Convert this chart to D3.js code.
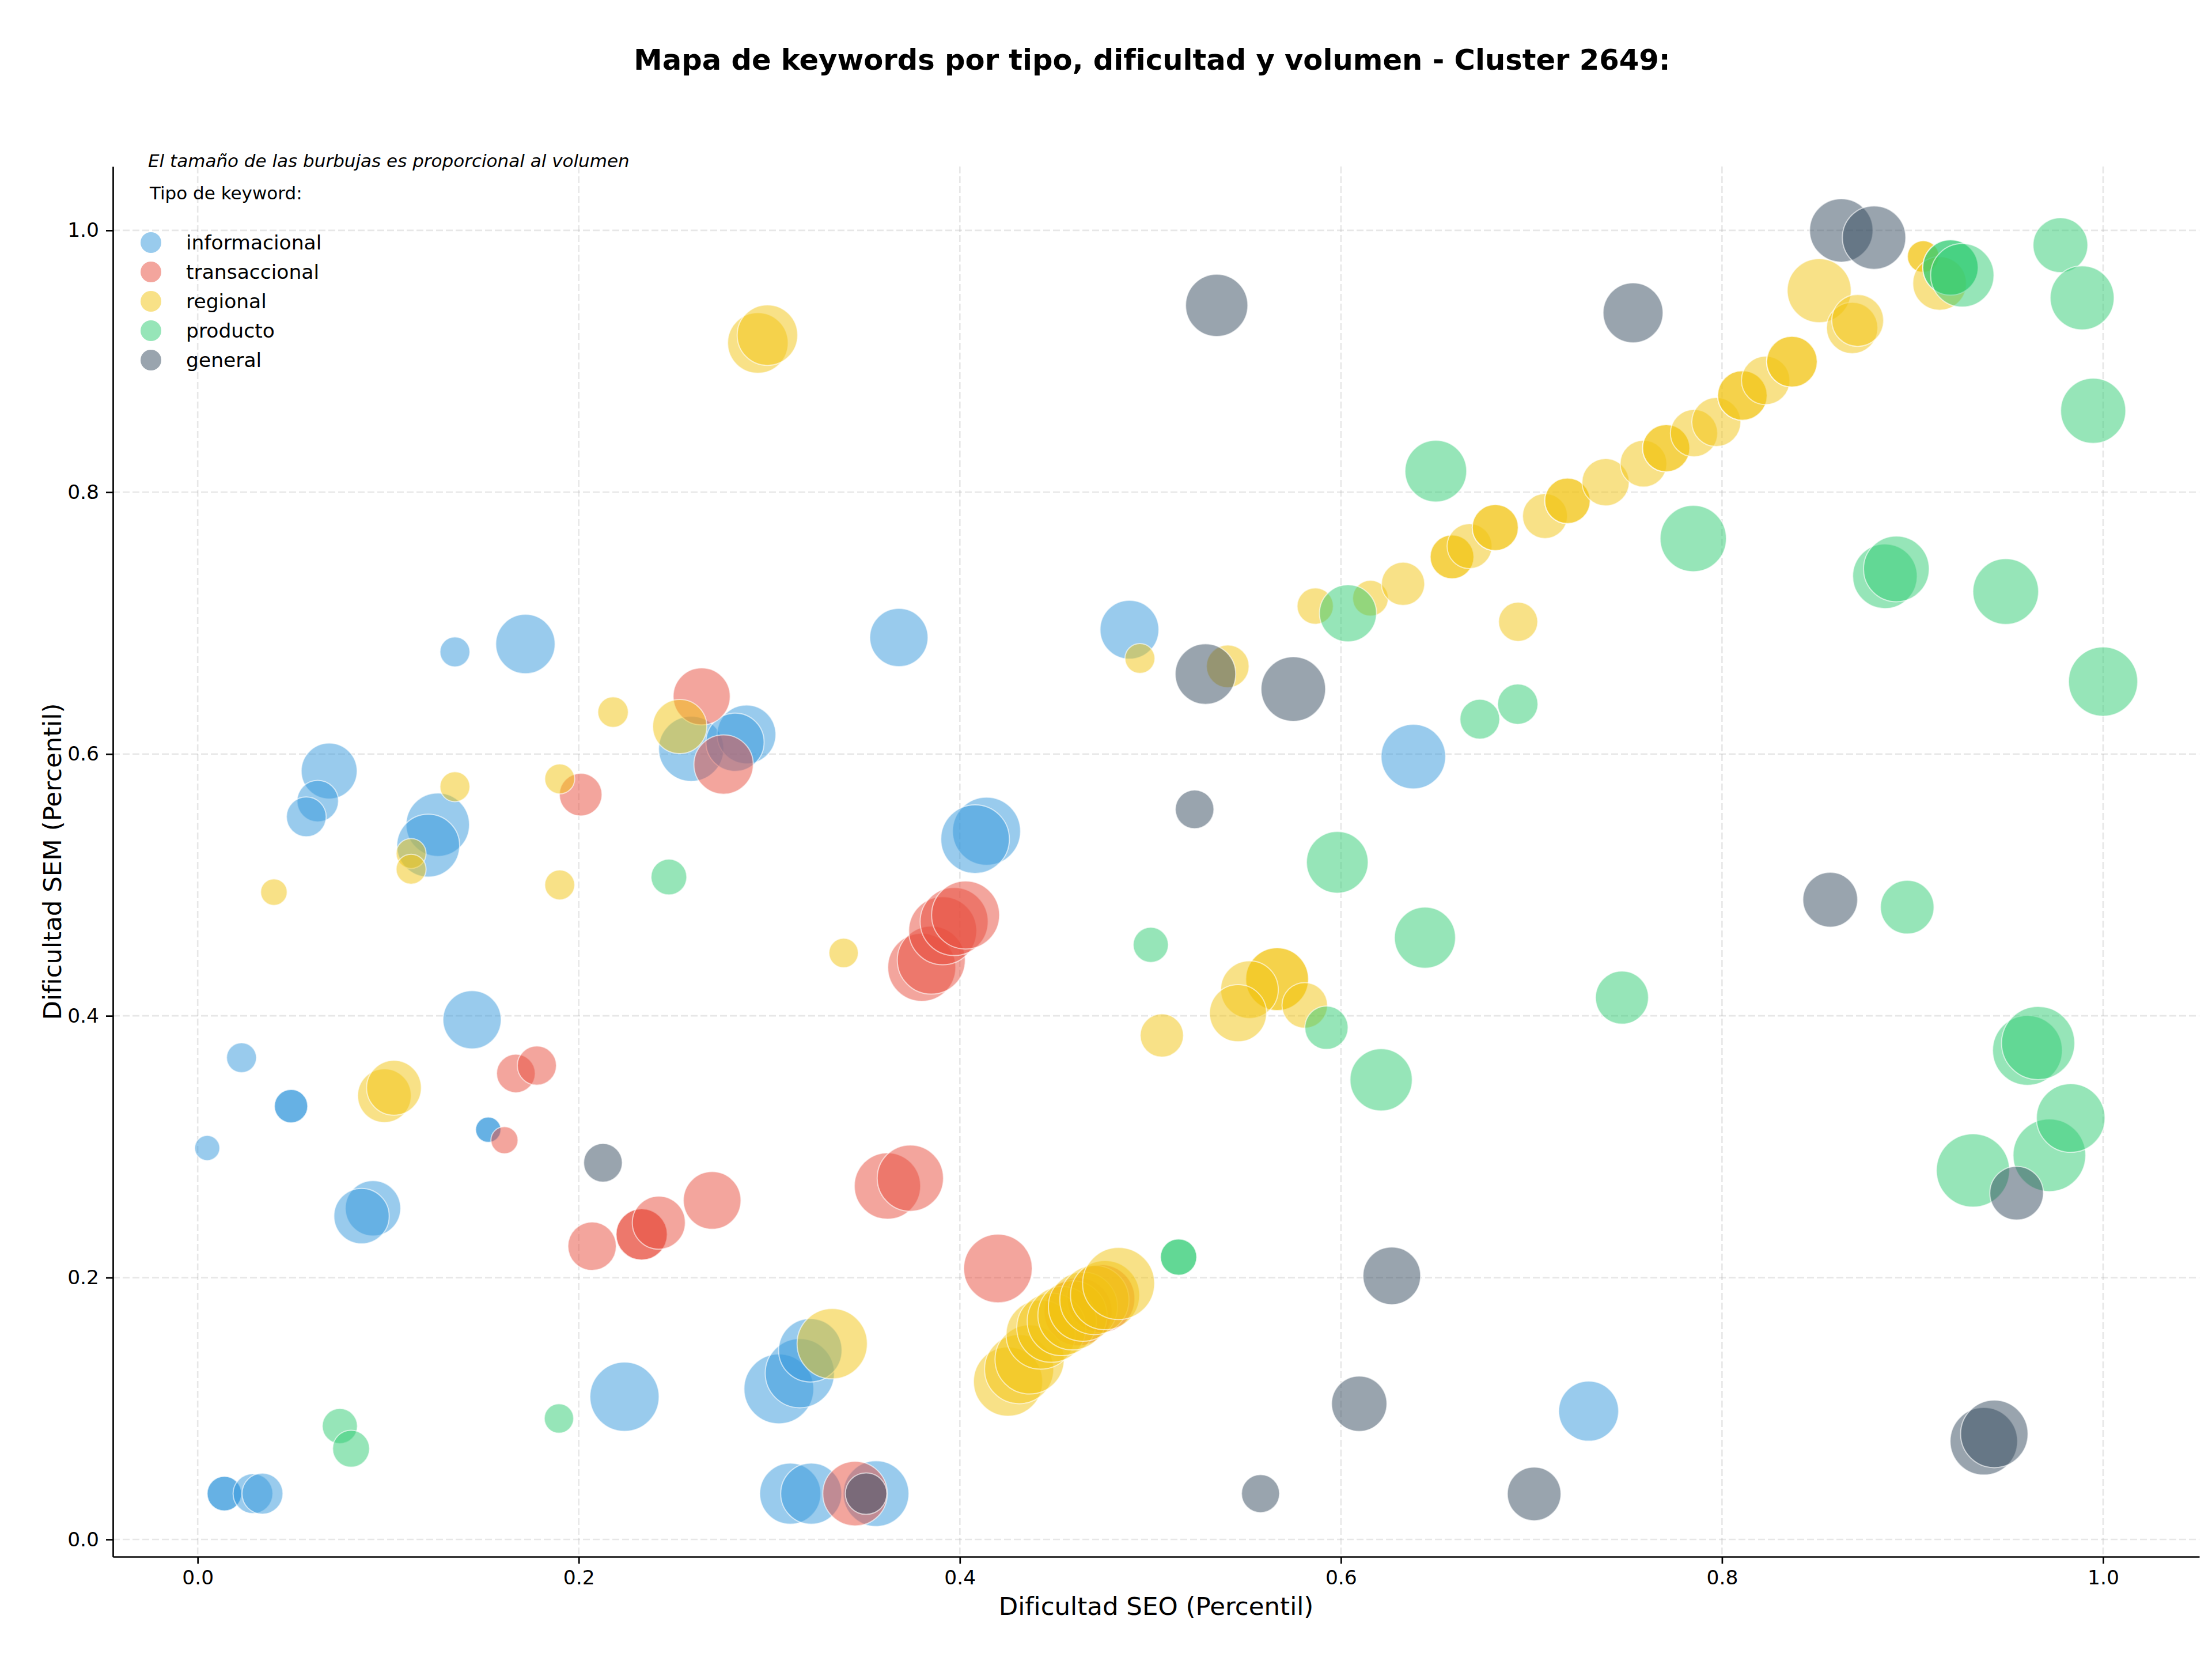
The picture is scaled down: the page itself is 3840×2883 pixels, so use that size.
<!DOCTYPE html>
<html lang="es">
  <head>
    <meta charset="UTF-8" />
    <title>Mapa de keywords - Cluster 2649</title>
    <script src="https://d3js.org/d3.v7.min.js"></script>
    <style>
      body { margin: 0; background: #fff; }
      text { font-family: "DejaVu Sans", sans-serif; fill: #000; }
    </style>
  </head>
  <body>
    <svg id="chart" width="3840" height="2883"></svg>
    <script>
      // [dificultad SEO, dificultad SEM, volumen] per keyword type
      let informacional = [
        [0.005, 0.299, 190], [0.023, 0.368, 270], [0.049, 0.331, 336], [0.049, 0.331, 336],
        [0.014, 0.035, 360], [0.014, 0.035, 360], [0.029, 0.035, 476], [0.034, 0.035, 504],
        [0.069, 0.587, 941], [0.063, 0.564, 518], [0.057, 0.552, 476], [0.135, 0.678, 270],
        [0.172, 0.684, 1061], [0.126, 0.546, 1210], [0.121, 0.530, 1188], [0.144, 0.397, 1020],
        [0.1525, 0.313, 194], [0.1525, 0.313, 194], [0.092, 0.253, 922], [0.086, 0.247, 922],
        [0.224, 0.109, 1440], [0.259, 0.604, 1277], [0.288, 0.615, 1040], [0.282, 0.609, 1020],
        [0.305, 0.115, 1464], [0.316, 0.127, 1440], [0.3215, 0.1445, 1210], [0.311, 0.035, 1124],
        [0.322, 0.035, 1124], [0.356, 0.035, 1300], [0.368, 0.689, 1020], [0.414, 0.541, 1392],
        [0.408, 0.535, 1416], [0.489, 0.695, 1040], [0.638, 0.598, 1254], [0.730, 0.098, 1082]
      ];
      let transaccional = [
        [0.161, 0.305, 221], [0.167, 0.356, 449], [0.178, 0.362, 462], [0.201, 0.569, 548],
        [0.207, 0.224, 706], [0.233, 0.233, 792], [0.233, 0.233, 792], [0.242, 0.242, 846],
        [0.270, 0.259, 1000], [0.2645, 0.644, 980], [0.276, 0.592, 1061], [0.345, 0.035, 1254],
        [0.362, 0.270, 1323], [0.374, 0.276, 1323], [0.380, 0.437, 1392], [0.385, 0.4425, 1392],
        [0.391, 0.465, 1392], [0.397, 0.472, 1392], [0.403, 0.477, 1392], [0.420, 0.207, 1416],
        [0.462, 0.174, 1392], [0.474, 0.184, 1392]
      ];
      let regional = [
        [0.040, 0.4945, 212], [0.098, 0.339, 865], [0.103, 0.345, 903], [0.112, 0.524, 270],
        [0.112, 0.512, 270], [0.135, 0.575, 270], [0.190, 0.581, 270], [0.190, 0.500, 270],
        [0.218, 0.632, 281], [0.253, 0.621, 884], [0.294, 0.914, 1103], [0.299, 0.920, 1103],
        [0.333, 0.1495, 1488], [0.339, 0.448, 260],
        [0.4253, 0.1206, 1440], [0.4311, 0.1301, 1440], [0.4366, 0.1375, 1440], [0.4424, 0.1565, 1440],
        [0.4480, 0.1617, 1440], [0.4535, 0.1668, 1440], [0.4591, 0.1712, 1440], [0.4646, 0.1778, 1440],
        [0.4706, 0.1829, 1440], [0.4762, 0.1866, 1440], [0.4833, 0.1955, 1563],
        [0.4945, 0.673, 270], [0.506, 0.385, 563], [0.5406, 0.667, 548], [0.5665, 0.428, 1188],
        [0.5665, 0.428, 1188], [0.552, 0.420, 1000], [0.546, 0.402, 980], [0.581, 0.408, 624],
        [0.5865, 0.713, 397], [0.6155, 0.719, 384], [0.6326, 0.730, 563], [0.6583, 0.7506, 578],
        [0.6583, 0.7506, 578], [0.6675, 0.7588, 608], [0.681, 0.773, 640], [0.681, 0.773, 640],
        [0.693, 0.701, 462], [0.7071, 0.7818, 608], [0.7189, 0.7934, 624], [0.7189, 0.7934, 624],
        [0.7389, 0.8076, 672], [0.7588, 0.8218, 656], [0.7707, 0.8336, 672], [0.7707, 0.8336, 672],
        [0.7853, 0.8451, 672], [0.797, 0.8536, 723], [0.8107, 0.8739, 740], [0.8107, 0.8739, 740],
        [0.8229, 0.8854, 706], [0.8367, 0.8997, 774], [0.8367, 0.8997, 774], [0.851, 0.954, 1232],
        [0.8683, 0.9255, 792], [0.8712, 0.9312, 810], [0.9056, 0.980, 303], [0.9056, 0.980, 303],
        [0.9142, 0.9595, 865]
      ];
      let producto = [
        [0.0746, 0.0866, 372], [0.0805, 0.0693, 410], [0.1896, 0.0924, 260], [0.2473, 0.506, 384],
        [0.5002, 0.4542, 372], [0.5148, 0.2157, 397], [0.5148, 0.2157, 397], [0.5924, 0.3909, 563],
        [0.5981, 0.5173, 1145], [0.6037, 0.7075, 980], [0.6211, 0.3511, 1166], [0.6441, 0.4597, 1124],
        [0.6498, 0.8161, 1145], [0.6729, 0.6266, 476], [0.6928, 0.6381, 490], [0.7475, 0.4139, 846],
        [0.7849, 0.7646, 1323], [0.8855, 0.7358, 1254], [0.8915, 0.7414, 1300], [0.8972, 0.4830, 865],
        [0.9199, 0.9717, 922], [0.9199, 0.9717, 922], [0.9261, 0.9657, 1210], [0.9489, 0.7241, 1300],
        [0.9317, 0.2819, 1613], [0.9603, 0.3736, 1464], [0.9659, 0.3792, 1613], [0.9718, 0.2935, 1588],
        [0.9776, 0.9887, 903], [0.983, 0.3219, 1416], [0.989, 0.9485, 1232], [0.9948, 0.8622, 1277],
        [1.0, 0.6553, 1440]
      ];
      let general = [
        [0.2127, 0.2877, 449], [0.3508, 0.035, 518], [0.5232, 0.5577, 449], [0.5289, 0.6611, 1103],
        [0.5348, 0.9427, 1166], [0.5578, 0.035, 436], [0.575, 0.6496, 1254], [0.6096, 0.1037, 922],
        [0.6267, 0.2014, 1000], [0.7014, 0.0348, 865], [0.7533, 0.937, 1082], [0.8568, 0.4887, 903],
        [0.8626, 1.0, 1210], [0.8798, 0.9945, 1210], [0.9374, 0.075, 1369], [0.9429, 0.0806, 1369],
        [0.9546, 0.2645, 865]
      ];

      let tipos = ["informacional", "transaccional", "regional", "producto", "general"];
      let colores = ["#3498db", "#e74c3c", "#f1c40f", "#2ecc71", "#34495e"];
      let series = [informacional, transaccional, regional, producto, general];
      let ticks = [0.0, 0.2, 0.4, 0.6, 0.8, 1.0];

      let svg = d3.select("#chart");
      let mLeft = 196, mRight = 3818, mTop = 289, mBottom = 2702;

      let x = d3.scaleLinear().domain([-0.0445, 1.0505]).range([mLeft, mRight]);
      let y = d3.scaleLinear().domain([-0.0132, 1.0488]).range([mBottom, mTop]);
      let r = d3.scaleSqrt().domain([0, 1000]).range([0, 50]);
      let color = d3.scaleOrdinal().domain(tipos).range(colores);

      // grid
      let grid = svg.append("g").attr("id", "grid");
      grid.selectAll("line.gx").data(ticks).enter().append("line")
        .attr("class", "gx")
        .attr("x1", d => x(d)).attr("x2", d => x(d))
        .attr("y1", mTop).attr("y2", mBottom);
      grid.selectAll("line.gy").data(ticks).enter().append("line")
        .attr("class", "gy")
        .attr("x1", mLeft).attr("x2", mRight)
        .attr("y1", d => y(d)).attr("y2", d => y(d));
      grid.selectAll("line")
        .attr("stroke", "#b0b0b0")
        .attr("stroke-opacity", 0.3)
        .attr("stroke-width", 2.6)
        .attr("stroke-dasharray", "12,5");

      // bubbles
      let puntos = [];
      series.forEach((s, i) => {
        s.forEach(p => puntos.push({ tipo: tipos[i], seo: p[0], sem: p[1], vol: p[2] }));
      });

      svg.append("g").attr("id", "bubbles")
        .selectAll("circle")
        .data(puntos)
        .enter()
        .append("circle")
        .attr("cx", d => x(d.seo))
        .attr("cy", d => y(d.sem))
        .attr("r", d => r(d.vol))
        .attr("fill", d => color(d.tipo))
        .attr("fill-opacity", 0.5)
        .attr("stroke", "white")
        .attr("stroke-opacity", 0.6)
        .attr("stroke-width", 2);

      // axes
      let xAxis = svg.append("g")
        .attr("transform", `translate(0,${mBottom})`)
        .call(d3.axisBottom(x).tickValues(ticks).tickFormat(d3.format(".1f")).tickSize(12).tickSizeOuter(0).tickPadding(12));
      let yAxis = svg.append("g")
        .attr("transform", `translate(${mLeft},0)`)
        .call(d3.axisLeft(y).tickValues(ticks).tickFormat(d3.format(".1f")).tickSize(12).tickSizeOuter(0).tickPadding(12));
      [xAxis, yAxis].forEach(a => {
        a.selectAll("path.domain").attr("stroke", "#000").attr("stroke-width", 2.7);
        a.selectAll(".tick line").attr("stroke", "#000").attr("stroke-width", 2.7);
        a.selectAll(".tick text")
          .attr("font-size", 34.5)
          .attr("font-family", "DejaVu Sans")
          .attr("fill", "#000");
      });

      // axis labels
      svg.append("text")
        .attr("x", (mLeft + mRight) / 2).attr("y", 2803)
        .attr("text-anchor", "middle")
        .attr("font-size", 43.5)
        .text("Dificultad SEO (Percentil)");
      svg.append("text")
        .attr("transform", `translate(106,${(mTop + mBottom) / 2}) rotate(-90)`)
        .attr("text-anchor", "middle")
        .attr("font-size", 43.5)
        .text("Dificultad SEM (Percentil)");

      // title
      svg.append("text")
        .attr("x", 2000).attr("y", 121)
        .attr("text-anchor", "middle")
        .attr("font-size", 49.6)
        .attr("font-weight", "bold")
        .text("Mapa de keywords por tipo, dificultad y volumen - Cluster 2649:");

      // note + legend
      svg.append("text")
        .attr("x", 257).attr("y", 290)
        .attr("font-size", 31)
        .attr("font-style", "italic")
        .text("El tamaño de las burbujas es proporcional al volumen");
      svg.append("text")
        .attr("x", 260).attr("y", 346)
        .attr("font-size", 31)
        .text("Tipo de keyword:");

      let legend = svg.append("g").attr("id", "legend")
        .selectAll("g")
        .data(tipos)
        .enter()
        .append("g")
        .attr("transform", (d, i) => `translate(262,${421 + i * 51})`);
      legend.append("circle")
        .attr("r", 18)
        .attr("fill", d => color(d))
        .attr("fill-opacity", 0.5);
      legend.append("text")
        .attr("x", 61).attr("y", 12)
        .attr("font-size", 34.5)
        .text(d => d);
    </script>
  </body>
</html>
